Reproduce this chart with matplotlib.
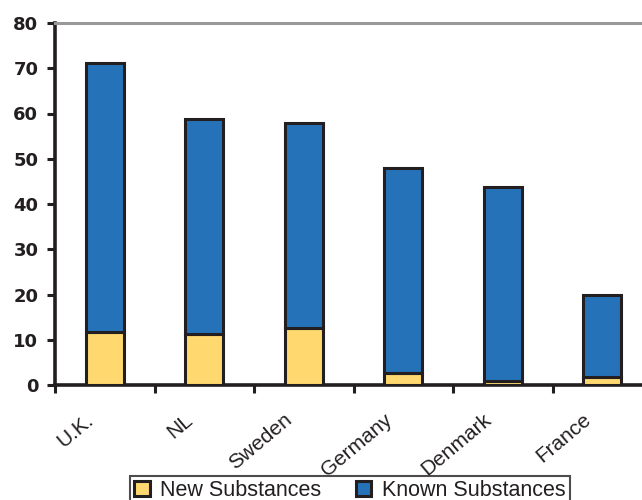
# 导入第三方库模块
import numpy as np
from matplotlib import pyplot as plt
from matplotlib import transforms

# 图表数据
countries = ['U.K.', 'NL', 'Sweden', 'Germany', 'Denmark', 'France']
new_substances = [11.7, 11.3, 12.6, 2.7, 0.9, 1.8]
known_substances = [59.4, 47.4, 45.3, 45.3, 42.9, 18.0]
y_ticks = [0, 10, 20, 30, 40, 50, 60, 70, 80]

# 颜色
YELLOW = '#FFD970'
BLUE = '#2672B8'
EDGE = '#231F20'

plt.rcParams['font.family'] = ['Liberation Sans', 'DejaVu Sans']

fig = plt.figure(figsize=(6.42, 5), dpi=100)
ax = fig.add_axes([0.0857, 0.23, 0.93, 0.724])

x = np.arange(len(countries))
ax.bar(x, new_substances, width=0.38, color=YELLOW,
       edgecolor=EDGE, linewidth=2.2, label='New Substances', zorder=3)
ax.bar(x, known_substances, width=0.38, bottom=new_substances,
       color=BLUE, edgecolor=EDGE, linewidth=2.2,
       label='Known Substances', zorder=3)

# 坐标轴
ax.set_xlim(-0.5, len(countries) - 0.5)
ax.set_ylim(0, 80)
ax.set_yticks(y_ticks)
ax.set_yticklabels([str(v) for v in y_ticks], fontsize=13,
                   fontweight='bold', family='DejaVu Sans', color=EDGE)
ax.set_xticks(np.arange(len(countries) + 1) - 0.5)
ax.set_xticklabels([])
ax.set_xticks(x, minor=True)
ax.set_xticklabels(countries, minor=True, rotation=40, ha='right',
                   rotation_mode='anchor', fontsize=15, color=EDGE)
ax.tick_params(axis='x', which='minor', length=0, pad=18)
ax.tick_params(axis='x', which='major', length=6, width=2.2, color=EDGE)
ax.tick_params(axis='y', length=6, width=2.2, color=EDGE, pad=6)

# 标签向左平移
shift = transforms.ScaledTranslation(-20 / 100, 0, fig.dpi_scale_trans)
for label in ax.get_xticklabels(minor=True):
    label.set_transform(label.get_transform() + shift)

for side in ['left', 'bottom']:
    ax.spines[side].set_linewidth(2.6)
    ax.spines[side].set_color(EDGE)
ax.spines['right'].set_visible(False)
ax.spines['top'].set_color('#999999')
ax.spines['top'].set_linewidth(2.2)

# 图例
leg = fig.legend(loc='upper center', bbox_to_anchor=(0.545, 0.048),
                 ncol=2, fontsize=15.5, frameon=True, fancybox=False,
                 handlelength=0.7, handleheight=0.7, handletextpad=0.5,
                 columnspacing=1.6, borderpad=0.2, borderaxespad=0)
leg.get_frame().set_edgecolor(EDGE)
leg.get_frame().set_linewidth(1.5)
for text in leg.get_texts():
    text.set_color(EDGE)

fig.savefig('out.png', dpi=100)
